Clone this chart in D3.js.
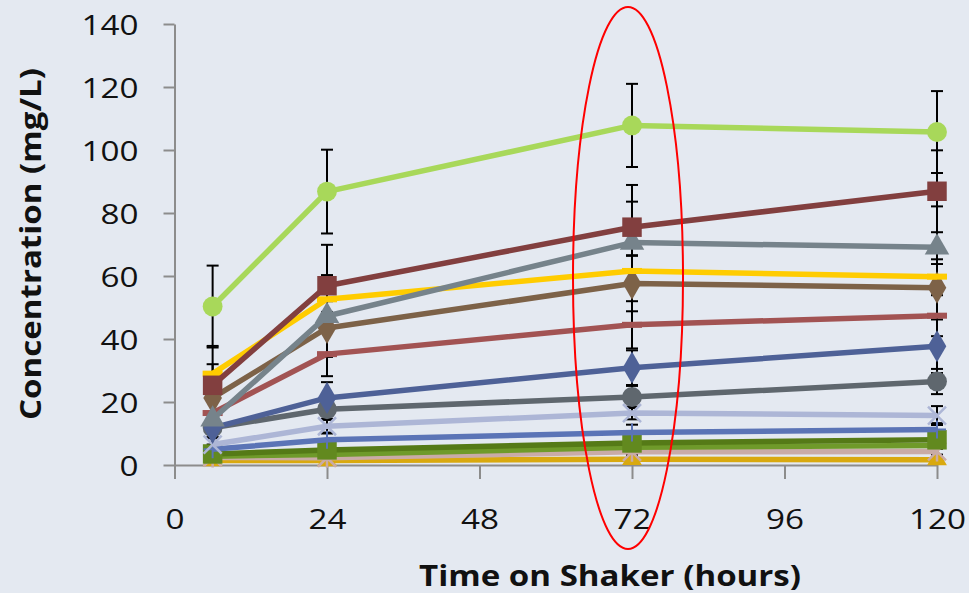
<!DOCTYPE html>
<html>
<head>
<meta charset="utf-8">
<script src="https://cdn.jsdelivr.net/npm/d3@7.9.0/dist/d3.min.js"></script>
<style>
  html, body { margin: 0; padding: 0; background: #e4e9f1; }
  svg { display: block; font-family: "Open Sans", "Liberation Sans", sans-serif; }
</style>
</head>
<body>
<svg id="chart" width="969" height="593"></svg>
<script>
// sampling times (hours)
const times = [6, 24, 72, 120];
const xTicks = [0, 24, 48, 72, 96, 120];
const yTicks = [0, 20, 40, 60, 80, 100, 120, 140];

// one array per series
const lightGreen = [50.3, 86.8, 107.8, 105.7];
const maroon = [25.3, 56.9, 75.5, 86.9];
const slate = [14.5, 47.3, 70.6, 69.1];
const yellow = [29, 52.6, 61.6, 59.8];
const brown = [21.3, 43.5, 57.6, 56.3];
const rose = [16.5, 35.2, 44.5, 47.4];
const blue = [11.8, 21.3, 30.9, 37.7];
const darkGray = [11.8, 17.7, 21.6, 26.5];
const lavender = [6.5, 12.3, 16.5, 15.7];
const midBlue = [5, 8, 10.3, 11.3];
const darkGreen = [3.5, 4.8, 7, 8];
const olive = [2.8, 3.3, 5.6, 6.2];
const pink = [2.4, 2.3, 4.2, 4.3];
const gold = [1.4, 1.4, 1.8, 1.7];

// standard deviations for the error bars
const lightGreenErr = [13, 13.3, 13.2, 13];
const maroonErr = [12.5, 13, 13.4, 13];
const slateErr = [13, 13, 13, 13];
const yellowErr = [3, 4, 5, 4];
const brownErr = [8, 8.5, 8.8, 9];
const roseErr = [6, 7, 7.5, 6.5];
const blueErr = [3, 5, 5.5, 8.5];
const darkGrayErr = [3, 3, 3.5, 4];
const lavenderErr = [2, 2, 2, 3];
const midBlueErr = [1.5, 2, 2.5, 2];
const darkGreenErr = [1.5, 1.5, 1.5, 1.5];
const oliveErr = [1, 1, 1, 1];
const pinkErr = [1, 1, 1, 1];
const goldErr = [0.5, 0.5, 0.5, 0.5];

const series = [
  { values: gold, err: goldErr, color: '#d9a90f', marker: 'triangle', size: 170 },
  { values: pink, err: pinkErr, color: '#c9aba7', marker: 'star' },
  { values: olive, err: oliveErr, color: '#6f9a2a', marker: 'none' },
  { values: darkGreen, err: darkGreenErr, color: '#557a17', marker: 'square', fill: '#62891f' },
  { values: midBlue, err: midBlueErr, color: '#5b74b6', marker: 'plus' },
  { values: lavender, err: lavenderErr, color: '#adb6d6', marker: 'x' },
  { values: darkGray, err: darkGrayErr, color: '#5f676e', marker: 'circle' },
  { values: blue, err: blueErr, color: '#4e6197', marker: 'diamond' },
  { values: rose, err: roseErr, color: '#a25353', marker: 'dash' },
  { values: brown, err: brownErr, color: '#7d6248', marker: 'diamond' },
  { values: yellow, err: yellowErr, color: '#ffcc00', marker: 'dash' },
  { values: slate, err: slateErr, color: '#76838b', marker: 'triangle' },
  { values: maroon, err: maroonErr, color: '#823f3f', marker: 'square' },
  { values: lightGreen, err: lightGreenErr, color: '#a8d85a', marker: 'circle' }
];

const svg = d3.select('#chart');
const x = d3.scaleLinear().domain([0, 120]).range([174.5, 937]);
const y = d3.scaleLinear().domain([0, 140]).range([465, 24]);

// axes
const axisColor = '#8c8c8c';
const yAxis = svg.append('g').attr('transform', `translate(${x(0)},0)`)
  .call(d3.axisLeft(y).tickValues(yTicks).tickSize(11).tickSizeOuter(0).tickPadding(25));
const xAxis = svg.append('g').attr('transform', `translate(0,${y(0)})`)
  .call(d3.axisBottom(x).tickValues(xTicks).tickSize(14).tickSizeOuter(0).tickPadding(40));
[xAxis, yAxis].forEach((g) => {
  g.select('.domain').attr('stroke', axisColor).attr('stroke-width', 2);
  g.selectAll('.tick line').attr('stroke', axisColor).attr('stroke-width', 2);
  g.selectAll('.tick text').attr('fill', '#111').style('font-size', '28px')
    .style('font-family', '"Open Sans", "Liberation Sans", sans-serif')
    .attr('textLength', function () { return this.textContent.length * 19; })
    .attr('lengthAdjust', 'spacingAndGlyphs');
});
xAxis.selectAll('.tick text').attr('dy', '0.36em');
yAxis.selectAll('.tick text').attr('dy', '0.36em');

svg.append('text')
  .attr('x', 610).attr('y', 586)
  .attr('text-anchor', 'middle')
  .style('font-size', '28px').style('font-weight', 'bold')
  .attr('fill', '#111')
  .attr('textLength', 382).attr('lengthAdjust', 'spacingAndGlyphs')
  .text('Time on Shaker (hours)');

svg.append('text')
  .attr('transform', 'translate(41,244) rotate(-90)')
  .attr('text-anchor', 'middle')
  .style('font-size', '28px').style('font-weight', 'bold')
  .attr('fill', '#111')
  .attr('textLength', 352).attr('lengthAdjust', 'spacingAndGlyphs')
  .text('Concentration (mg/L)');

// error bars
const errG = svg.append('g');
series.forEach((s) => {
  s.values.forEach((v, i) => {
    const cx = x(times[i]);
    const top = y(v + s.err[i]);
    const bot = y(Math.max(0, v - s.err[i]));
    errG.append('line').attr('x1', cx).attr('x2', cx).attr('y1', top).attr('y2', bot)
      .attr('stroke', '#000').attr('stroke-width', 2);
    [top, bot].forEach((cy) => {
      errG.append('line').attr('x1', cx - 6).attr('x2', cx + 6).attr('y1', cy).attr('y2', cy)
        .attr('stroke', '#000').attr('stroke-width', 2);
    });
  });
});

// lines and markers
const line = d3.line().x((d, i) => x(times[i])).y((d) => y(d));
const symbols = {
  circle: d3.symbolCircle,
  square: d3.symbolSquare,
  triangle: d3.symbolTriangle,
  diamond: d3.symbolDiamond
};
const sizes = { circle: 310, square: 380, triangle: 260, diamond: 300 };

series.forEach((s) => {
  const g = svg.append('g');
  g.append('path').datum(s.values).attr('d', line)
    .attr('fill', 'none').attr('stroke', s.color).attr('stroke-width', 5.5)
    .attr('stroke-linejoin', 'round');

  s.values.forEach((v, i) => {
    const cx = x(times[i]);
    const cy = y(v);
    if (symbols[s.marker]) {
      g.append('path')
        .attr('transform', `translate(${cx},${cy})`)
        .attr('d', d3.symbol().type(symbols[s.marker]).size(s.size || sizes[s.marker])())
        .attr('fill', s.fill || s.color);
    } else if (s.marker === 'dash') {
      g.append('rect').attr('x', cx - 10).attr('y', cy - 3).attr('width', 20).attr('height', 6)
        .attr('fill', s.color);
    } else if (s.marker === 'plus') {
      g.append('path').attr('d', `M${cx - 9},${cy}H${cx + 9}M${cx},${cy - 9}V${cy + 9}`)
        .attr('stroke', s.color).attr('stroke-width', 2);
    } else if (s.marker === 'x') {
      g.append('path').attr('d', `M${cx - 9},${cy - 9}L${cx + 9},${cy + 9}M${cx - 9},${cy + 9}L${cx + 9},${cy - 9}`)
        .attr('stroke', s.color).attr('stroke-width', 2.5);
    } else if (s.marker === 'star') {
      g.append('path').attr('d', `M${cx - 9},${cy - 9}L${cx + 9},${cy + 9}M${cx - 9},${cy + 9}L${cx + 9},${cy - 9}M${cx},${cy - 10}V${cy + 10}`)
        .attr('stroke', s.color).attr('stroke-width', 2.5);
    }
  });
});

// red annotation ellipse round the 72 h column
svg.append('ellipse')
  .attr('cx', x(72) - 4).attr('cy', 278)
  .attr('rx', 55).attr('ry', 271)
  .attr('fill', 'none').attr('stroke', '#ff0000').attr('stroke-width', 2);
</script>
</body>
</html>
